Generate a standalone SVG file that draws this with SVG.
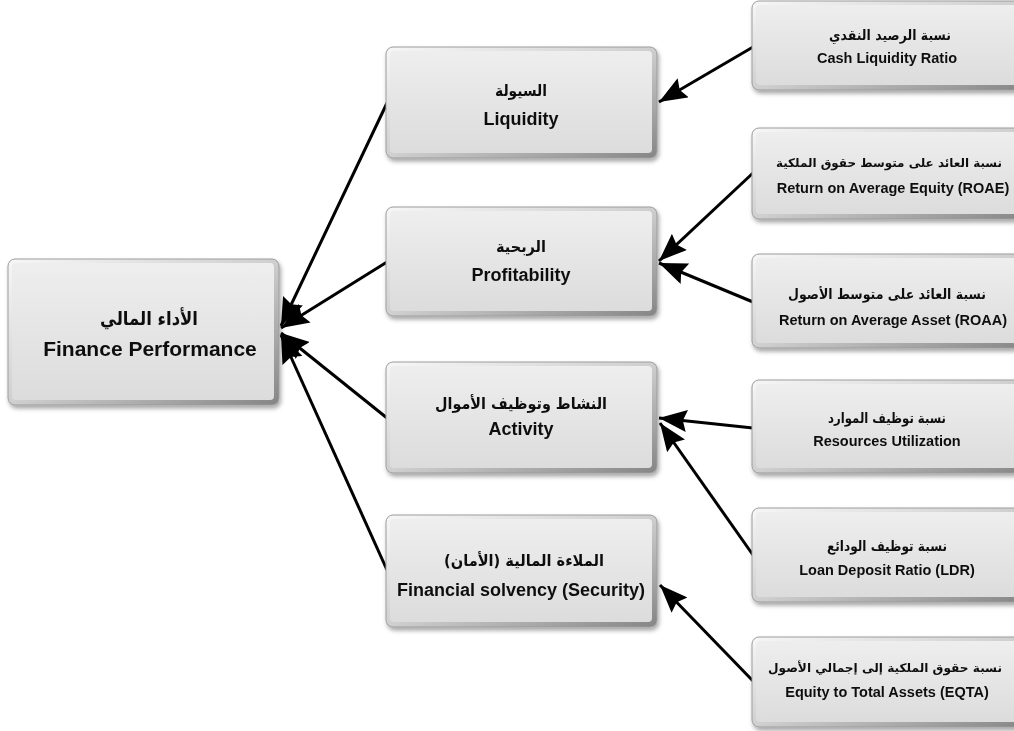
<svg xmlns="http://www.w3.org/2000/svg" width="1014" height="731" viewBox="0 0 1014 731">
<defs>
<linearGradient id="edge" x1="0" y1="0" x2="1" y2="1">
<stop offset="0" stop-color="#f7f7f7"/>
<stop offset="0.5" stop-color="#cfcfcf"/>
<stop offset="1" stop-color="#858585"/>
</linearGradient>
<linearGradient id="face" x1="0" y1="0" x2="0" y2="1">
<stop offset="0" stop-color="#eeeeee"/>
<stop offset="1" stop-color="#dcdcdc"/>
</linearGradient>
<filter id="sh" x="-10%" y="-10%" width="125%" height="130%">
<feDropShadow dx="1.5" dy="3" stdDeviation="2" flood-color="#000" flood-opacity="0.35"/>
</filter>
<marker id="ah" viewBox="0 0 28 22" refX="28" refY="11" markerWidth="28" markerHeight="22" markerUnits="userSpaceOnUse" orient="auto">
<path d="M0,0 L28,11 L0,22 L4,11 z" fill="#000"/>
</marker>
<style>
.o{fill:url(#edge);stroke:#9c9c9c;stroke-width:1}
.i{fill:url(#face)}
.t{font-family:"Liberation Sans","DejaVu Sans",sans-serif;font-weight:bold;fill:#111;text-anchor:middle}
.ar{font-family:"DejaVu Sans","Liberation Sans",sans-serif;font-weight:bold;fill:#111;text-anchor:middle}
.c{stroke:#000;stroke-width:3;fill:none;marker-end:url(#ah)}
</style>
</defs>
<rect width="1014" height="731" fill="#fff"/>

<g id="connectors">
<line class="c" x1="387" y1="103" x2="281" y2="326"/>
<line class="c" x1="387" y1="262" x2="281" y2="328"/>
<line class="c" x1="387" y1="418" x2="281" y2="333"/>
<line class="c" x1="387" y1="570" x2="281" y2="335"/>
<line class="c" x1="753" y1="47" x2="659" y2="102"/>
<line class="c" x1="753" y1="173" x2="659" y2="261"/>
<line class="c" x1="753" y1="302" x2="659" y2="263"/>
<line class="c" x1="753" y1="428" x2="659" y2="418"/>
<line class="c" x1="753" y1="555" x2="660" y2="423"/>
<line class="c" x1="753" y1="681" x2="660" y2="585"/>
</g>

<g id="main" filter="url(#sh)">
<rect class="o" x="8" y="259" width="271" height="146" rx="7"/>
<rect class="i" x="12" y="263" width="262" height="137" rx="4"/>
<text class="ar" x="149" y="325" font-size="19" direction="rtl" textLength="98" lengthAdjust="spacingAndGlyphs">الأداء المالي</text>
<text class="t" x="150" y="356" font-size="21">Finance Performance</text>
</g>

<g id="liquidity" filter="url(#sh)">
<rect class="o" x="386" y="47" width="271" height="111" rx="7"/>
<rect class="i" x="390" y="51" width="262" height="102" rx="4"/>
<text class="ar" x="521" y="96" font-size="16" direction="rtl" textLength="52" lengthAdjust="spacingAndGlyphs">السيولة</text>
<text class="t" x="521" y="125" font-size="18">Liquidity</text>
</g>

<g id="profitability" filter="url(#sh)">
<rect class="o" x="386" y="207" width="271" height="109" rx="7"/>
<rect class="i" x="390" y="211" width="262" height="100" rx="4"/>
<text class="ar" x="521" y="252" font-size="16" direction="rtl" textLength="50" lengthAdjust="spacingAndGlyphs">الربحية</text>
<text class="t" x="521" y="281" font-size="18">Profitability</text>
</g>

<g id="activity" filter="url(#sh)">
<rect class="o" x="386" y="362" width="271" height="111" rx="7"/>
<rect class="i" x="390" y="366" width="262" height="102" rx="4"/>
<text class="ar" x="521" y="409" font-size="16" direction="rtl" textLength="172" lengthAdjust="spacingAndGlyphs">النشاط وتوظيف الأموال</text>
<text class="t" x="521" y="435" font-size="18">Activity</text>
</g>

<g id="solvency" filter="url(#sh)">
<rect class="o" x="386" y="515" width="271" height="112" rx="7"/>
<rect class="i" x="390" y="519" width="262" height="103" rx="4"/>
<text class="ar" x="524" y="566" font-size="16" direction="rtl" textLength="160" lengthAdjust="spacingAndGlyphs">الملاءة المالية (الأمان)</text>
<text class="t" x="521" y="596" font-size="18">Financial solvency (Security)</text>
</g>

<g id="cash" filter="url(#sh)">
<rect class="o" x="752" y="1" width="275" height="89" rx="7"/>
<rect class="i" x="756" y="5" width="266" height="80" rx="4"/>
<text class="ar" x="890" y="40" font-size="14" direction="rtl" textLength="122" lengthAdjust="spacingAndGlyphs">نسبة الرصيد النقدي</text>
<text class="t" x="887" y="63" font-size="14.5">Cash Liquidity Ratio</text>
</g>

<g id="roae" filter="url(#sh)">
<rect class="o" x="752" y="128" width="275" height="91" rx="7"/>
<rect class="i" x="756" y="132" width="266" height="82" rx="4"/>
<text class="ar" x="889" y="167" font-size="12" direction="rtl" textLength="226" lengthAdjust="spacingAndGlyphs">نسبة العائد على متوسط حقوق الملكية</text>
<text class="t" x="893" y="193" font-size="14.5">Return on Average Equity (ROAE)</text>
</g>

<g id="roaa" filter="url(#sh)">
<rect class="o" x="752" y="254" width="275" height="94" rx="7"/>
<rect class="i" x="756" y="258" width="266" height="85" rx="4"/>
<text class="ar" x="887" y="299" font-size="14" direction="rtl" textLength="198" lengthAdjust="spacingAndGlyphs">نسبة العائد على متوسط الأصول</text>
<text class="t" x="893" y="325" font-size="14.5">Return on Average Asset (ROAA)</text>
</g>

<g id="resources" filter="url(#sh)">
<rect class="o" x="752" y="380" width="275" height="93" rx="7"/>
<rect class="i" x="756" y="384" width="266" height="84" rx="4"/>
<text class="ar" x="887" y="423" font-size="14" direction="rtl" textLength="118" lengthAdjust="spacingAndGlyphs">نسبة توظيف الموارد</text>
<text class="t" x="887" y="446" font-size="14.5">Resources Utilization</text>
</g>

<g id="ldr" filter="url(#sh)">
<rect class="o" x="752" y="508" width="275" height="94" rx="7"/>
<rect class="i" x="756" y="512" width="266" height="85" rx="4"/>
<text class="ar" x="887" y="551" font-size="14" direction="rtl" textLength="120" lengthAdjust="spacingAndGlyphs">نسبة توظيف الودائع</text>
<text class="t" x="887" y="575" font-size="14.5">Loan Deposit Ratio (LDR)</text>
</g>

<g id="eqta" filter="url(#sh)">
<rect class="o" x="752" y="637" width="275" height="90" rx="7"/>
<rect class="i" x="756" y="641" width="266" height="81" rx="4"/>
<text class="ar" x="885" y="672" font-size="12" direction="rtl" textLength="234" lengthAdjust="spacingAndGlyphs">نسبة حقوق الملكية إلى إجمالي الأصول</text>
<text class="t" x="887" y="697" font-size="14.5">Equity to Total Assets (EQTA)</text>
</g>
</svg>
